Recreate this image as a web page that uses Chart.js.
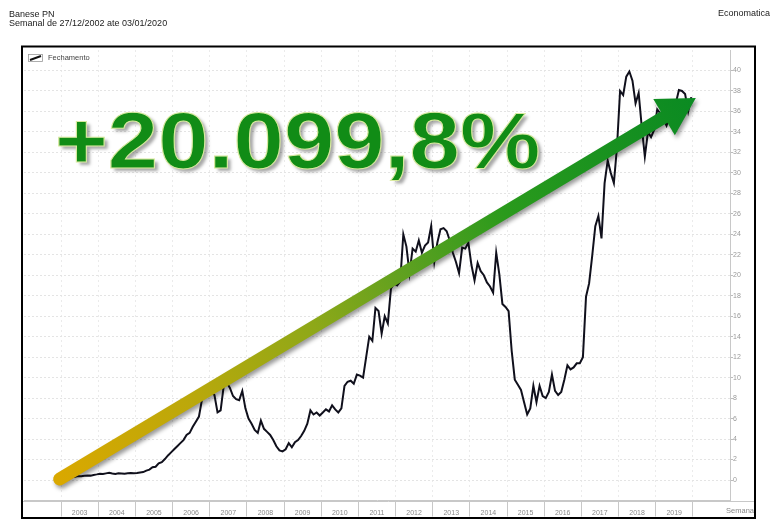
<!DOCTYPE html>
<html>
<head>
<meta charset="utf-8">
<title>Banese PN</title>
<script src="https://cdn.jsdelivr.net/npm/chart.js@4.4.1/dist/chart.umd.min.js"></script>
<style>
  body { margin: 0; background: #fff; font-family: "Liberation Sans", Arial, sans-serif; }
  #wrap { position: relative; width: 773px; height: 525px; overflow: hidden; }
  #wrap canvas { position: absolute; left: 0; top: 0; }
  .txt { position: absolute; white-space: nowrap; line-height: 1; }
  #title { left: 9px; top: 9.5px; font-size: 9px; color: #222; }
  #subtitle { left: 9px; top: 19px; font-size: 9px; color: #222; }
  #source { left: 718px; top: 8.5px; font-size: 9px; color: #222; }
  #legendText { left: 48px; top: 54.2px; font-size: 7.5px; color: #444; }
  #xName { right: 19px; top: 506.6px; font-size: 7.5px; color: #888; }
  #bigText {
    left: 55px; top: 101px; font-size: 79px; font-weight: bold; color: #118c16;
    -webkit-text-stroke: 1px #d9eaa0;
    text-shadow: 3px 3px 3px rgba(0, 0, 0, 0.35);
    transform: scaleX(1.145); transform-origin: left top;
  }
</style>
</head>
<body>
<div id="wrap">
  <canvas id="chart" width="773" height="525"></canvas>
  <div class="txt" id="title">Banese PN</div>
  <div class="txt" id="subtitle">Semanal de 27/12/2002 ate 03/01/2020</div>
  <div class="txt" id="source">Economatica</div>
  <div class="txt" id="legendText">Fechamento</div>
  <div class="txt" id="xName">Semana</div>
  <div class="txt" id="bigText">+20.099,8%</div>
</div>
<script>
// Banese PN - fechamento semanal (~1 ponto por mes)

const yearLabels = ['2003', '2004', '2005', '2006', '2007', '2008', '2009', '2010', '2011',
  '2012', '2013', '2014', '2015', '2016', '2017', '2018', '2019'];

const valueTicks = [0, 2, 4, 6, 8, 10, 12, 14, 16, 18, 20, 22, 24, 26, 28, 30, 32, 34, 36, 38, 40];

// first value = dez/2002, then one value per month jan/2003 .. dez/2019
const closes = [
  0.20,
  0.21, 0.24, 0.30, 0.28, 0.33, 0.38, 0.36, 0.42, 0.45, 0.43, 0.50, 0.55,   // 2003
  0.62, 0.58, 0.65, 0.70, 0.63, 0.60, 0.66, 0.64, 0.61, 0.65, 0.68, 0.66,   // 2004
  0.68, 0.74, 0.78, 0.92, 1.02, 1.25, 1.30, 1.62, 1.75, 2.05, 2.40, 2.70,   // 2005
  3.0, 3.3, 3.6, 3.9, 4.4, 4.6, 5.2, 5.7, 6.2, 7.9, 8.2, 8.4,               // 2006
  8.6, 8.3, 6.6, 6.8, 9.2, 9.5, 9.0, 8.2, 7.9, 7.8, 8.7, 7.0,               // 2007
  6.0, 5.5, 4.9, 4.6, 5.8, 5.0, 4.7, 4.4, 3.9, 3.3, 2.9, 2.8,               // 2008
  3.0, 3.6, 3.2, 3.7, 3.9, 4.3, 4.8, 5.5, 6.8, 6.4, 6.6, 6.3,               // 2009
  6.6, 6.9, 6.7, 7.3, 6.9, 6.6, 7.0, 9.2, 9.6, 9.7, 9.4, 10.3,              // 2010
  10.2, 10.0, 12.0, 14.0, 13.6, 16.8, 16.5, 14.3, 16.0, 15.3, 18.7, 19.2,   // 2011
  19.0, 19.4, 24.0, 22.8, 20.2, 22.6, 22.3, 23.4, 22.2, 22.9, 23.2, 24.8,   // 2012
  21.3, 23.2, 24.5, 24.6, 24.3, 23.4, 22.2, 21.3, 20.2, 22.7, 22.6, 23.2,   // 2013
  21.0, 19.5, 21.2, 20.4, 20.0, 19.3, 18.9, 18.3, 22.2, 20.1, 17.2, 16.9,   // 2014
  16.5, 12.6, 9.8, 9.3, 8.8, 7.6, 6.4, 7.0, 9.2, 7.6, 9.2, 8.2,             // 2015
  8.0, 8.6, 10.3, 8.7, 8.3, 8.6, 9.8, 11.2, 10.8, 11.0, 11.4, 11.4,         // 2016
  12.0, 17.9, 19.2, 21.9, 24.8, 25.8, 23.6, 29.0, 31.2, 30.0, 29.0, 32.5,   // 2017
  38.0, 37.6, 39.4, 39.9, 39.0, 36.8, 37.8, 34.5, 31.6, 34.0, 33.5, 34.2,   // 2018
  36.2, 35.8, 35.2, 34.6, 35.5, 36.0, 36.8, 38.1, 38.0, 37.7, 36.0, 37.4    // 2019
];

// arrow drawn over the chart, in data units (year, price)
const arrowFrom = { x: 2002.96, y: 0.1 };
const arrowTo = { x: 2020.08, y: 37.3 };

// month index -> fractional year (mid month), index 0 = dez/2002
const points = closes.map((v, i) => ({ x: 2002 + (11.5 + i) / 12, y: v }));

const inYears = v => v >= 2003 && v <= 2020;
const inValues = v => v >= 0 && v <= 40;

const overlay = {
  id: 'overlay',
  afterDraw(chart) {
    const { ctx, scales: { x, y }, chartArea } = chart;
    ctx.save();

    // baseline across the whole frame
    ctx.strokeStyle = '#c8c8c8';
    ctx.lineWidth = 1;
    ctx.beginPath();
    ctx.moveTo(22, Math.round(chartArea.bottom) + 0.5);
    ctx.lineTo(755, Math.round(chartArea.bottom) + 0.5);
    ctx.stroke();

    // legend icon
    ctx.strokeStyle = '#999';
    ctx.lineWidth = 0.8;
    ctx.strokeRect(28.5, 54.5, 14, 7);
    ctx.strokeStyle = '#111';
    ctx.lineWidth = 2;
    ctx.beginPath();
    ctx.moveTo(30, 60);
    ctx.lineTo(41, 56);
    ctx.stroke();

    // big arrow
    const s = { x: x.getPixelForValue(arrowFrom.x), y: y.getPixelForValue(arrowFrom.y) };
    const t = { x: x.getPixelForValue(arrowTo.x), y: y.getPixelForValue(arrowTo.y) };
    const len = Math.hypot(t.x - s.x, t.y - s.y);
    const d = { x: (t.x - s.x) / len, y: (t.y - s.y) / len };
    const n = { x: -d.y, y: d.x };
    const w = 6.5, headLen = 37, headHalf = 21;
    const b = { x: t.x - d.x * headLen, y: t.y - d.y * headLen };

    const grad = ctx.createLinearGradient(s.x, s.y, t.x, t.y);
    grad.addColorStop(0, '#d9a800');
    grad.addColorStop(0.2, '#bca80a');
    grad.addColorStop(0.4, '#8ea818');
    grad.addColorStop(0.55, '#5ca020');
    grad.addColorStop(0.7, '#2a9a1c');
    grad.addColorStop(1, '#0a8a22');

    ctx.beginPath();
    ctx.arc(s.x, s.y, w, Math.atan2(n.y, n.x), Math.atan2(-n.y, -n.x), false);
    ctx.lineTo(b.x - n.x * w, b.y - n.y * w);
    ctx.lineTo(b.x - n.x * headHalf, b.y - n.y * headHalf);
    ctx.lineTo(t.x, t.y);
    ctx.lineTo(b.x + n.x * headHalf, b.y + n.y * headHalf);
    ctx.lineTo(b.x + n.x * w, b.y + n.y * w);
    ctx.closePath();
    ctx.shadowColor = 'rgba(0,0,0,0.4)';
    ctx.shadowBlur = 4;
    ctx.shadowOffsetX = 2;
    ctx.shadowOffsetY = 3;
    ctx.fillStyle = grad;
    ctx.fill();
    ctx.shadowColor = 'rgba(0,0,0,0)';

    // frame
    ctx.strokeStyle = '#000';
    ctx.lineWidth = 2;
    ctx.strokeRect(22, 46.5, 733, 471.5);
    ctx.restore();
  }
};

new Chart(document.getElementById('chart'), {
  type: 'line',
  data: {
    datasets: [{
      label: 'Fechamento',
      data: points,
      borderColor: '#10101c',
      borderWidth: 2,
      pointRadius: 0,
      tension: 0,
      fill: false
    }]
  },
  options: {
    responsive: false,
    animation: false,
    devicePixelRatio: 1,
    layout: { padding: { left: 24, top: 50, right: 0, bottom: 0 } },
    plugins: { legend: { display: false }, tooltip: { enabled: false } },
    scales: {
      x: {
        type: 'linear',
        min: 2002,
        max: 2021,
        afterFit: scale => { scale.height = 24.5; },
        ticks: {
          stepSize: 1,
          autoSkip: false,
          maxRotation: 0,
          labelOffset: 18.5,
          padding: -8,
          color: '#8a8a8a',
          font: { size: 7, family: '"Liberation Sans", Arial, sans-serif' },
          callback: v => (yearLabels.includes(String(v)) ? String(v) : '')
        },
        grid: {
          color: c => (c.tick && inYears(c.tick.value) ? '#ebebeb' : 'rgba(0,0,0,0)'),
          tickColor: c => (c.tick && inYears(c.tick.value) ? '#c8c8c8' : 'rgba(0,0,0,0)'),
          tickLength: 16
        },
        border: { display: true, color: '#c8c8c8', dash: [2, 3] }
      },
      y: {
        position: 'right',
        min: -2,
        max: 42,
        afterFit: scale => { scale.width = 43; },
        afterBuildTicks: scale => {
          scale.ticks = [-2].concat(valueTicks, [42]).map(v => ({ value: v }));
        },
        ticks: {
          padding: 0,
          color: '#999',
          font: { size: 7, family: '"Liberation Sans", Arial, sans-serif' },
          callback: v => (inValues(v) ? String(v) : '')
        },
        grid: {
          color: c => (c.tick && inValues(c.tick.value) ? '#e4e4e4' : 'rgba(0,0,0,0)'),
          tickColor: c => (c.tick && inValues(c.tick.value) ? '#bbb' : 'rgba(0,0,0,0)'),
          tickLength: 3
        },
        border: { display: true, color: '#c8c8c8', dash: [2, 2] }
      }
    }
  },
  plugins: [overlay]
});
</script>
</body>
</html>
